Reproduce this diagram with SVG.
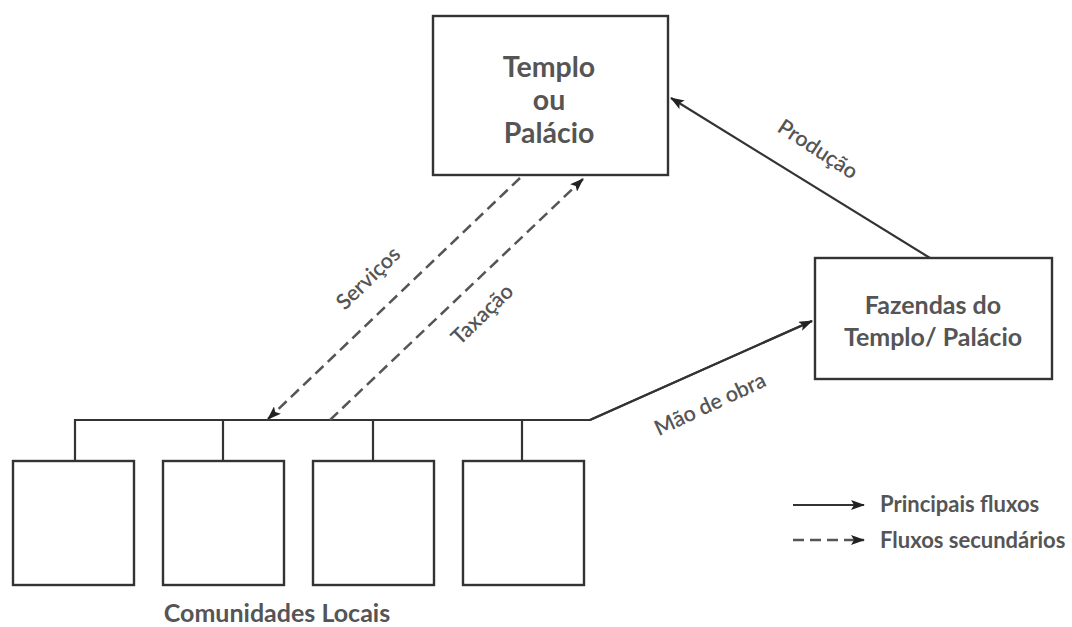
<svg xmlns="http://www.w3.org/2000/svg" width="1072" height="627" viewBox="0 0 1072 627">
<defs>
<marker id="ah" viewBox="0 0 14 10" refX="13" refY="5" markerWidth="14" markerHeight="10" markerUnits="userSpaceOnUse" orient="auto">
<path d="M0,0 L14,5 L0,10 L3,5 Z" fill="#222"/>
</marker>
<style>
.box{fill:#fff;stroke:#333;stroke-width:2.4}
.ln{fill:none;stroke:#333;stroke-width:2.2}
.dash{fill:none;stroke:#555;stroke-width:2.5;stroke-dasharray:11,6}
.t{font-family:Lato,"Liberation Sans",sans-serif;font-weight:700;fill:#555;text-anchor:middle}
.lbl{font-family:Lato,"Liberation Sans",sans-serif;font-weight:600;fill:#555;font-size:21.5px;text-anchor:middle}
.leg{font-family:Lato,"Liberation Sans",sans-serif;font-weight:700;fill:#555;font-size:22px}
</style>
</defs>
<rect width="1072" height="627" fill="#fff"/>
<g id="templo">
<rect class="box" x="433" y="16" width="235" height="159"/>
<text class="t" font-size="28.5" x="549" y="77">Templo</text>
<text class="t" font-size="28.5" x="549" y="110">ou</text>
<text class="t" font-size="28.5" x="549" y="143">Palácio</text>
</g>
<g id="fazendas">
<rect class="box" x="815" y="258" width="237" height="121"/>
<text class="t" font-size="25" x="933" y="314">Fazendas do</text>
<text class="t" font-size="25" x="933" y="346">Templo/ Palácio</text>
</g>
<g id="comunidades">
<rect class="box" x="13" y="461" width="121" height="124"/>
<rect class="box" x="163" y="461" width="121" height="124"/>
<rect class="box" x="313" y="461" width="121" height="124"/>
<rect class="box" x="463" y="461" width="121" height="124"/>
<text class="t" font-size="25" x="277" y="622">Comunidades Locais</text>
</g>
<g id="connectors">
<path class="ln" d="M75,461 V420 H590 L812,321"/>
<path class="ln" d="M223,420 V461 M373,420 V461 M522,420 V461"/>
<line class="ln" x1="590" y1="420" x2="812" y2="321" marker-end="url(#ah)"/>
<line class="ln" x1="930" y1="258" x2="671" y2="98" marker-end="url(#ah)"/>
<line class="dash" x1="520" y1="178" x2="268" y2="419" marker-end="url(#ah)"/>
<line class="dash" x1="330" y1="420" x2="583" y2="179" marker-end="url(#ah)"/>
<text class="lbl" dy="0.35em" transform="translate(368,278) rotate(-44)">Serviços</text>
<text class="lbl" dy="0.35em" transform="translate(482,314) rotate(-44)">Taxação</text>
<text class="lbl" dy="0.35em" transform="translate(818,149) rotate(33)">Produção</text>
<text class="lbl" dy="0.35em" transform="translate(710,404) rotate(-25)">Mão de obra</text>
</g>
<g id="legenda">
<line class="ln" x1="793" y1="505" x2="864" y2="505" marker-end="url(#ah)"/>
<line class="dash" x1="793" y1="540" x2="864" y2="540" marker-end="url(#ah)"/>
<text class="leg" x="880" y="512">Principais fluxos</text>
<text class="leg" x="880" y="548">Fluxos secundários</text>
</g>
</svg>
